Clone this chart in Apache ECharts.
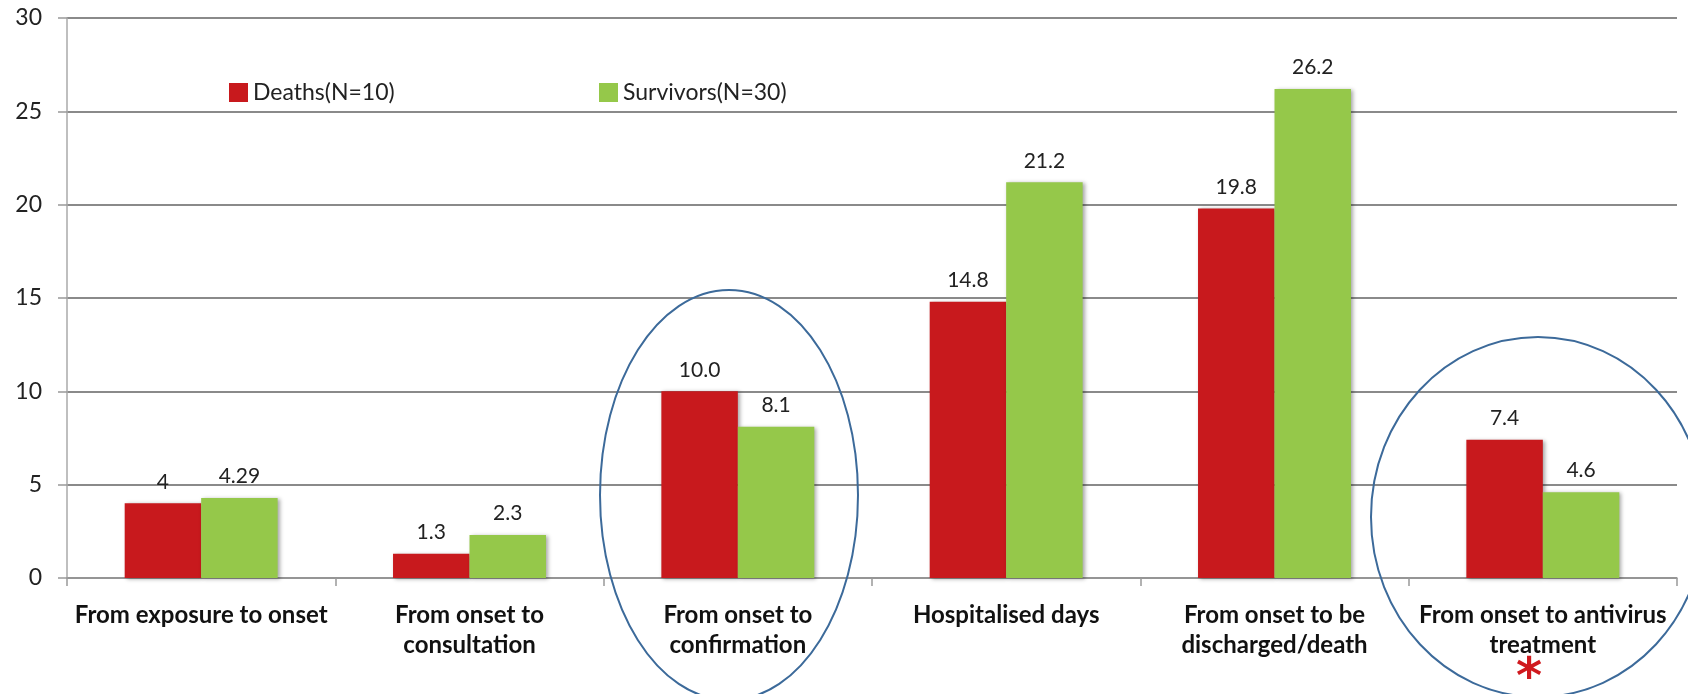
<!DOCTYPE html>
<html>
<head>
<meta charset="utf-8">
<script src="https://cdn.jsdelivr.net/npm/echarts@6/dist/echarts.min.js"></script>
<style>
  html, body { margin: 0; padding: 0; background: #fff; }
  #main { width: 1688px; height: 694px; }
</style>
</head>
<body>
<div id="main"></div>
<script>
// categories and values
var categories = [
	'From exposure to onset',
	'From onset to\nconsultation',
	'From onset to\nconfirmation',
	'Hospitalised days',
	'From onset to be\ndischarged/death',
	'From onset to antivirus\ntreatment'
];
var deaths = [4, 1.3, 10.0, 14.8, 19.8, 7.4];
var deathsLabels = ['4', '1.3', '10.0', '14.8', '19.8', '7.4'];
var survivors = [4.29, 2.3, 8.1, 21.2, 26.2, 4.6];
var survivorsLabels = ['4.29', '2.3', '8.1', '21.2', '26.2', '4.6'];
var yTicks = [0, 5, 10, 15, 20, 25, 30];

var font = 'Lato, "Open Sans", sans-serif';
var barShadow = {
	shadowColor: 'rgba(0,0,0,0.35)',
	shadowBlur: 4,
	shadowOffsetX: 2,
	shadowOffsetY: 1
};

var chart = echarts.init(document.getElementById('main'));

var option = {
	animation: false,
	textStyle: { fontFamily: font },
	grid: {
		left: 67,
		right: 11,
		top: 18,
		bottom: 116,
		containLabel: false
	},
	legend: [
		{
			data: ['Deaths(N=10)'],
			icon: 'rect',
			left: 224,
			top: 76,
			itemWidth: 19,
			itemHeight: 19,
			itemGap: 7,
			textStyle: { fontSize: 23, color: '#222', fontFamily: font }
		},
		{
			data: ['Survivors(N=30)'],
			icon: 'rect',
			left: 594,
			top: 76,
			itemWidth: 19,
			itemHeight: 19,
			itemGap: 7,
			textStyle: { fontSize: 23, color: '#222', fontFamily: font }
		}
	],
	xAxis: {
		type: 'category',
		data: categories,
		axisLine: { lineStyle: { color: '#999', width: 1.5 } },
		axisTick: { show: true, length: 8, lineStyle: { color: '#999', width: 1.5 } },
		axisLabel: {
			interval: 0,
			margin: 22,
			fontSize: 24,
			fontWeight: 'bold',
			color: '#111',
			lineHeight: 30,
			fontFamily: font
		}
	},
	yAxis: {
		type: 'value',
		min: yTicks[0],
		max: yTicks[yTicks.length - 1],
		interval: 5,
		axisLine: { show: true, lineStyle: { color: '#aaa', width: 1.5 } },
		axisTick: { show: true, length: 9, lineStyle: { color: '#999', width: 1.5 } },
		axisLabel: { fontSize: 23, color: '#222', margin: 25, fontFamily: font },
		splitLine: { lineStyle: { color: '#8a8a8a', width: 1.8 } }
	},
	series: [
		{
			name: 'Deaths(N=10)',
			type: 'bar',
			data: deaths,
			barGap: '0%',
			barCategoryGap: '43%',
			itemStyle: Object.assign({ color: '#C8191D' }, barShadow),
			label: {
				show: true,
				position: 'top',
				distance: 11,
				fontSize: 21,
				color: '#222',
				fontFamily: font,
				formatter: function (p) { return deathsLabels[p.dataIndex]; }
			}
		},
		{
			name: 'Survivors(N=30)',
			type: 'bar',
			data: survivors,
			itemStyle: Object.assign({ color: '#95C84A' }, barShadow),
			label: {
				show: true,
				position: 'top',
				distance: 11,
				fontSize: 21,
				color: '#222',
				fontFamily: font,
				formatter: function (p) { return survivorsLabels[p.dataIndex]; }
			}
		}
	],
	// hand drawn annotations: two circles and the red asterisk
	graphic: [
		{
			type: 'ellipse',
			shape: { cx: 729, cy: 495, rx: 129, ry: 205 },
			style: { fill: 'none', stroke: '#3C6A9A', lineWidth: 2 },
			z: 100
		},
		{
			type: 'ellipse',
			shape: { cx: 1538, cy: 517, rx: 167, ry: 180 },
			style: { fill: 'none', stroke: '#3C6A9A', lineWidth: 2 },
			z: 100
		},
		{
			type: 'text',
			x: 1529,
			y: 680,
			style: {
				text: '*',
				fill: '#D0191E',
				font: 'bold 50px "DejaVu Sans", sans-serif',
				textAlign: 'center',
				textVerticalAlign: 'middle'
			},
			z: 100
		}
	]
};

chart.setOption(option);
</script>
</body>
</html>
